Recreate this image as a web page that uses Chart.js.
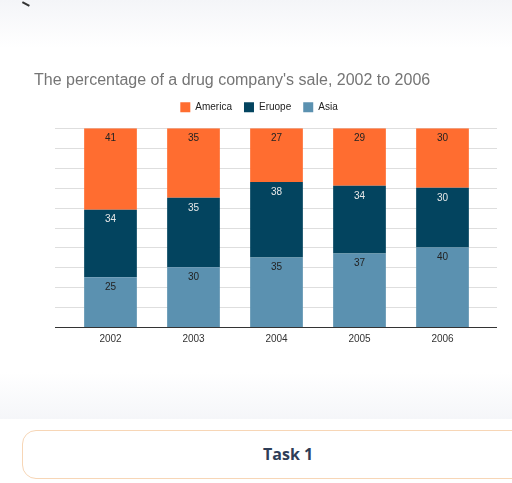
<!DOCTYPE html>
<html>
<head>
<meta charset="utf-8">
<script src="https://cdn.jsdelivr.net/npm/chart.js@4.4.1/dist/chart.umd.min.js"></script>
<style>
  html, body { margin: 0; padding: 0; }
  body { width: 512px; height: 483px; position: relative; overflow: hidden; background: #fff; }
  .topfade { position: absolute; left: 0; top: 0; width: 512px; height: 48px;
    background: linear-gradient(to bottom, #f4f5f8, #ffffff); }
  .chev { position: absolute; left: 22px; top: 3px; width: 8px; height: 1.5px; background: #333;
    transform: rotate(28deg); }
  .band { position: absolute; left: 0; top: 372px; width: 512px; height: 47px;
    background: linear-gradient(to bottom, #ffffff, #f5f6f9); }
  .wrap { position: absolute; left: 0; top: 0; width: 512px; height: 360px; }
  .task { position: absolute; left: 22px; top: 430px; width: 520px; height: 49px;
    border: 1px solid #f7d6b6; border-radius: 14px; box-sizing: border-box; background: #fff;
    font-family: "Open Sans", sans-serif; font-weight: 700; font-size: 16px; color: #2e3d57; }
  .task span { position: absolute; left: 240px; top: 12px; }
</style>
</head>
<body>
<div class="topfade"></div>
<div class="chev"></div>
<div class="band"></div>
<div class="wrap"><canvas id="drugSalesChart"></canvas></div>
<div class="task"><span>Task 1</span></div>
<script>
const years = ['2002', '2003', '2004', '2005', '2006'];
const asia = [25, 30, 35, 37, 40];
const europe = [34, 35, 38, 34, 30];
const america = [41, 35, 27, 29, 30];

// a little more room under the legend
const legendGap = {
    id: 'legendGap',
    beforeInit(chart) {
        const fit = chart.legend.fit;
        chart.legend.fit = function () {
            fit.call(this);
            this.height += 6;
        };
    }
};

// grid lines run a bit past the bars on both sides, like the original
const wideGrid = {
    id: 'wideGrid',
    beforeDatasetsDraw(chart) {
        const { ctx, chartArea, scales } = chart;
        const y = scales.y;
        ctx.save();
        ctx.lineWidth = 1;
        y.ticks.forEach(t => {
            const py = Math.round(y.getPixelForValue(t.value)) + 0.5;
            ctx.strokeStyle = t.value === 0 ? '#333333' : '#dedede';
            ctx.beginPath();
            ctx.moveTo(chartArea.left - 14, py);
            ctx.lineTo(chartArea.right + 13, py);
            ctx.stroke();
        });
        ctx.restore();
    }
};

// value labels near the top of each segment
const segLabels = {
    id: 'segLabels',
    afterDatasetsDraw(chart) {
        const { ctx } = chart;
        ctx.save();
        ctx.font = '10px "Liberation Sans", Arial, sans-serif';
        ctx.textAlign = 'center';
        ctx.textBaseline = 'middle';
        chart.data.datasets.forEach((ds, i) => {
            chart.getDatasetMeta(i).data.forEach((bar, j) => {
                ctx.fillStyle = ds.labelColor;
                ctx.fillText(ds.data[j], bar.x, bar.y + 10);
            });
        });
        ctx.restore();
    }
};

const ctx = document.getElementById('drugSalesChart').getContext('2d');
const drugSalesChart = new Chart(ctx, {
    type: 'bar',
    data: {
        labels: years,
        datasets: [
            { label: 'Asia', data: asia, backgroundColor: '#5b91b0', labelColor: '#222222' },
            { label: 'Eruope', data: europe, backgroundColor: '#03445f', labelColor: '#e8e8e8' },
            { label: 'America', data: america, backgroundColor: '#ff6d30', labelColor: '#222222' }
        ]
    },
    options: {
        responsive: true,
        maintainAspectRatio: false,
        animation: false,
        datasets: { bar: { categoryPercentage: 1, barPercentage: 0.635 } },
        layout: { padding: { top: 71, left: 34, right: 28, bottom: 9 } },
        scales: {
            x: {
                stacked: true,
                grid: { display: false, drawTicks: false },
                border: { display: false },
                ticks: { color: '#333333', padding: 6, font: { size: 10, family: '"Liberation Sans", Arial, sans-serif' } }
            },
            y: {
                stacked: true,
                min: 0,
                max: 100,
                ticks: { display: false, stepSize: 10 },
                grid: { display: false, drawTicks: false },
                border: { display: false },
                afterFit: scale => { scale.width = 35; }
            }
        },
        plugins: {
            title: {
                display: true,
                align: 'start',
                text: "The percentage of a drug company's sale, 2002 to 2006",
                color: '#757575',
                font: { size: 16, weight: 'normal', family: '"Liberation Sans", Arial, sans-serif' },
                padding: { top: 0, bottom: 0 }
            },
            legend: {
                display: true,
                position: 'top',
                reverse: true,
                labels: {
                    boxWidth: 10,
                    boxHeight: 10,
                    padding: 12,
                    color: '#222222',
                    font: { size: 10, family: '"Liberation Sans", Arial, sans-serif' }
                }
            },
            tooltip: { enabled: false }
        }
    },
    plugins: [legendGap, wideGrid, segLabels]
});
</script>
</body>
</html>
